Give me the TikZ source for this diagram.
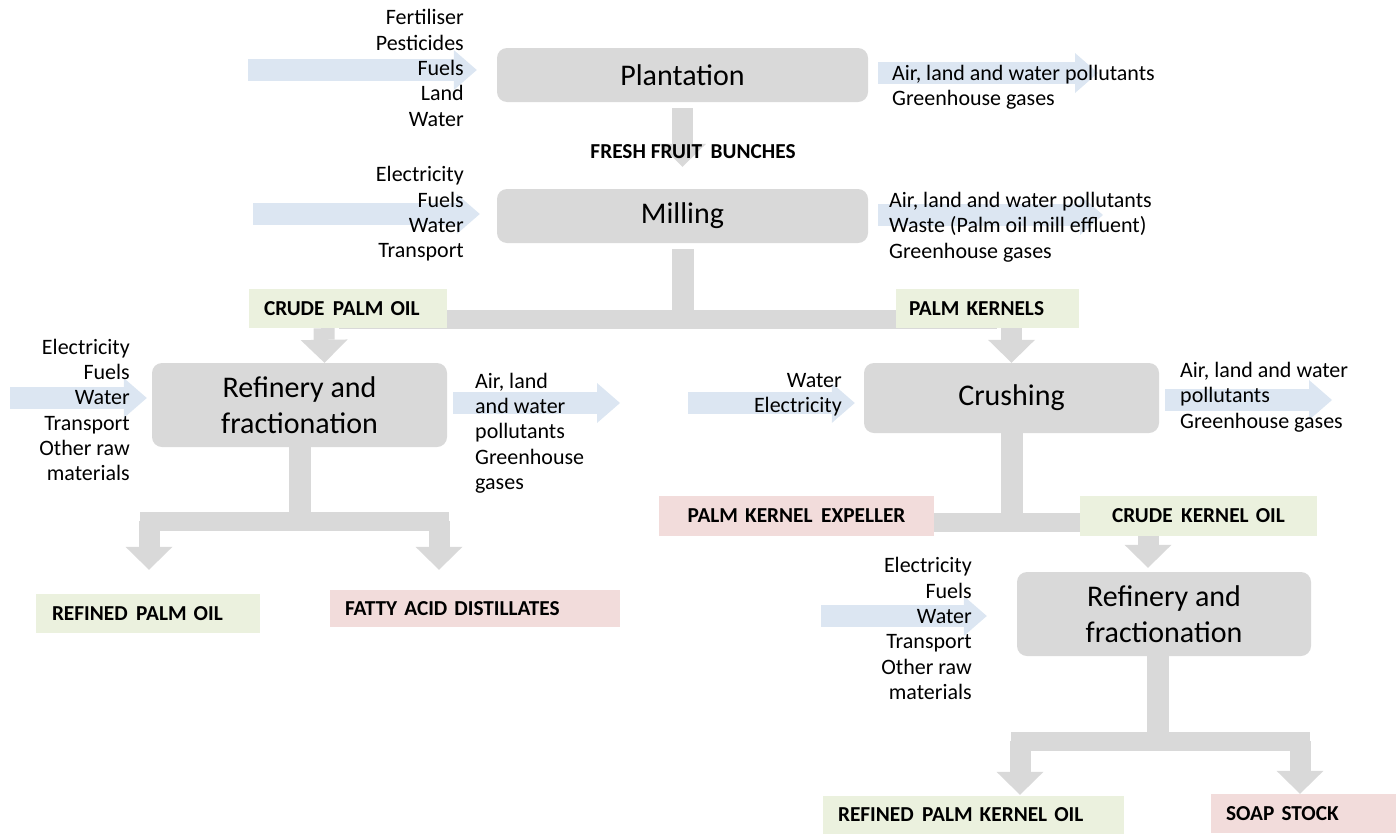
\documentclass[tikz,border=0pt]{standalone}
\usepackage{fontspec}
\setmainfont{Carlito}
\usetikzlibrary{arrows.meta,backgrounds}
\definecolor{boxgray}{HTML}{D9D9D9}
\definecolor{flowblue}{HTML}{DCE6F2}
\definecolor{prodgreen}{HTML}{EBF1DE}
\definecolor{prodpink}{HTML}{F2DCDB}
\begin{document}
\begin{tikzpicture}[x=1pt,y=-1pt,
  proc/.style={fill=boxgray, rounded corners=10pt, inner sep=0pt, align=center, font=\fontsize{30}{36}\selectfont},
  prod/.style={inner ysep=0pt, align=left, font=\bfseries\fontsize{21.3}{24}\selectfont},
  lstR/.style={inner sep=0pt, align=right, anchor=east, font=\fontsize{22}{25.3}\selectfont},
  lstL/.style={inner sep=0pt, align=left, anchor=west, font=\fontsize{22}{25.3}\selectfont},
  gflow/.style={draw=boxgray, line width=21pt, -{Triangle[width=47pt,length=23pt,line width=0pt]}},
  gshaft/.style={draw=boxgray, line width=22pt},
  gbar/.style={draw=boxgray, line width=19pt, line cap=rect},
  bflow/.style={draw=flowblue, line width=22pt, -{Triangle[width=40pt,length=23pt,line width=0pt]}},
]
\useasboundingbox (0,0) rectangle (1396,833);

% process boxes
\node[proc, minimum width=371pt, minimum height=54pt] (plant) at (682.5,75) {Plantation};
\node[proc, minimum width=371pt, minimum height=54pt] (mill) at (682.5,216) {Milling};
\node[proc, minimum width=295pt, minimum height=84pt] (ref1) at (299.5,405) {Refinery and\\fractionation};
\node[proc, minimum width=295pt, minimum height=70pt] (crush) at (1011.5,398) {Crushing};
\node[proc, minimum width=294pt, minimum height=84pt] (ref2) at (1164,614) {Refinery and\\fractionation};

% product boxes
\node[prod, fill=prodgreen, minimum height=39pt, text width=168pt, inner xsep=15pt] (cpo) at (348,308.5) {CRUDE\hspace{0.4em}PALM OIL};
\node[prod, fill=prodgreen, minimum height=39pt, text width=157pt, inner xsep=13pt] (pk) at (987.5,308.5) {PALM KERNELS};
\node[prod, fill=prodgreen, minimum height=39pt, text width=192pt, inner xsep=16pt] (rpo) at (148,613.5) {REFINED\hspace{0.4em}PALM OIL};
\node[prod, fill=prodpink, minimum height=37pt, text width=260pt, inner xsep=15pt] (fad) at (475,608.5) {FATTY ACID DISTILLATES};
\node[prod, fill=prodpink, minimum height=40pt, text width=243pt, inner xsep=16pt, align=center] (pke) at (796.5,516) {PALM KERNEL\hspace{0.4em}EXPELLER};
\node[prod, fill=prodgreen, minimum height=40pt, text width=205pt, inner xsep=16pt, align=center] (cko) at (1198.5,516) {CRUDE\hspace{0.4em}KERNEL OIL};
\node[prod, fill=prodgreen, minimum height=38pt, text width=271pt, inner xsep=15pt] (rpko) at (973.5,815) {REFINED\hspace{0.4em}PALM KERNEL OIL};
\node[prod, fill=prodpink, minimum height=39pt, text width=155pt, inner xsep=15pt] (soap) at (1303.5,813.5) {SOAP STOCK};

% input / output lists
\node[lstR] (plantin) at (464,68) {Fertiliser\\Pesticides\\Fuels\\Land\\Water};
\node[lstL] (plantout) at (892,87) {Air, land and water pollutants\\Greenhouse gases};
\node[lstR] (millin) at (464,214) {Electricity\\Fuels\\Water\\Transport};
\node[lstL] (millout) at (889,227) {Air, land and water pollutants\\Waste (Palm oil mill effluent)\\Greenhouse gases};
\node[lstR] (ref1in) at (130,410) {Electricity\\Fuels\\Water\\Transport\\Other raw\\materials};
\node[lstL] (ref1out) at (475,433) {Air, land\\and water\\pollutants\\Greenhouse\\gases};
\node[lstR] (crushin) at (842,395) {Water\\Electricity};
\node[lstL] (crushout) at (1180,397) {Air, land and water\\pollutants\\Greenhouse gases};
\node[lstR] (ref2in) at (972,628.5) {Electricity\\Fuels\\Water\\Transport\\Other raw\\materials};

\node[prod, inner xsep=0pt] (ffb) at (693,152) {FRESH FRUIT\hspace{0.4em}BUNCHES};

% helper coordinates
\coordinate (ym) at (0,319);
\coordinate (yb1) at (0,521);
\coordinate (yc) at (0,522);
\coordinate (yb2) at (0,741);
\coordinate (l1) at (149,521);
\coordinate (r1) at (439,521);
\coordinate (l2) at (1020,741);
\coordinate (r2) at (1300,741);
\coordinate (pi) at (248,70);
\coordinate (po) at (1098,73);
\coordinate (mi) at (253,214);
\coordinate (mo) at (1103,215);
\coordinate (r1i) at (10,398);
\coordinate (r1o) at (620,403);
\coordinate (ci) at (688,403);
\coordinate (co) at (1332,400);
\coordinate (r2i) at (821,616);

\begin{pgfonlayer}{background}
  % gray flow
  \draw[gflow, shorten <=6pt, shorten >=22pt] (plant.south) -- (mill.north);
  \draw[gshaft] ([yshift=-6pt]mill.south) -- (mill.south |- ym);
  \draw[gbar] (cpo.center |- ym) -- (pk.center |- ym);
  \draw[gflow] ([xshift=-24pt]cpo.south) -- ([xshift=25pt]ref1.north);
  \draw[gflow] (pk.south -| crush.north) -- (crush.north);

  \draw[gshaft] (ref1.south) -- (ref1.south |- yb1);
  \draw[gbar] (l1) -- (r1);
  \draw[gflow, shorten >=24pt] (l1) -- (l1 |- rpo.north);
  \draw[gflow, shorten >=20pt] (r1) -- (r1 |- fad.north);

  \draw[gshaft] (crush.south) -- (crush.south |- yc);
  \draw[gbar] (pke.center |- yc) -- (cko.center |- yc);
  \draw[gflow, shorten >=4pt] ([xshift=-50.5pt]cko.south) -- ([xshift=-16pt]ref2.north);

  \draw[gshaft] ([xshift=-6pt]ref2.south) -- ([xshift=-6pt]ref2.south |- yb2);
  \draw[gbar] (l2) -- (r2);
  \draw[gflow, shorten >=1pt] (l2) -- (l2 |- rpko.north);
  \draw[gflow] (r2) -- (r2 |- soap.north);

  % blue flows
  \draw[bflow, shorten >=20pt] (pi) -- (pi -| plant.west);
  \draw[bflow, shorten <=10pt] (po -| plant.east) -- (po);
  \draw[bflow, shorten >=17pt] (mi) -- (mi -| mill.west);
  \draw[bflow, shorten <=10pt] (mo -| mill.east) -- (mo);
  \draw[bflow, shorten >=5pt] (r1i) -- (r1i -| ref1.west);
  \draw[bflow, shorten <=6pt] (r1o -| ref1.east) -- (r1o);
  \draw[bflow, shorten >=9pt] (ci) -- (ci -| crush.west);
  \draw[bflow, shorten <=6pt] (co -| crush.east) -- (co);
  \draw[bflow, shorten >=30pt] (r2i) -- (r2i -| ref2.west);
\end{pgfonlayer}
\end{tikzpicture}
\end{document}
